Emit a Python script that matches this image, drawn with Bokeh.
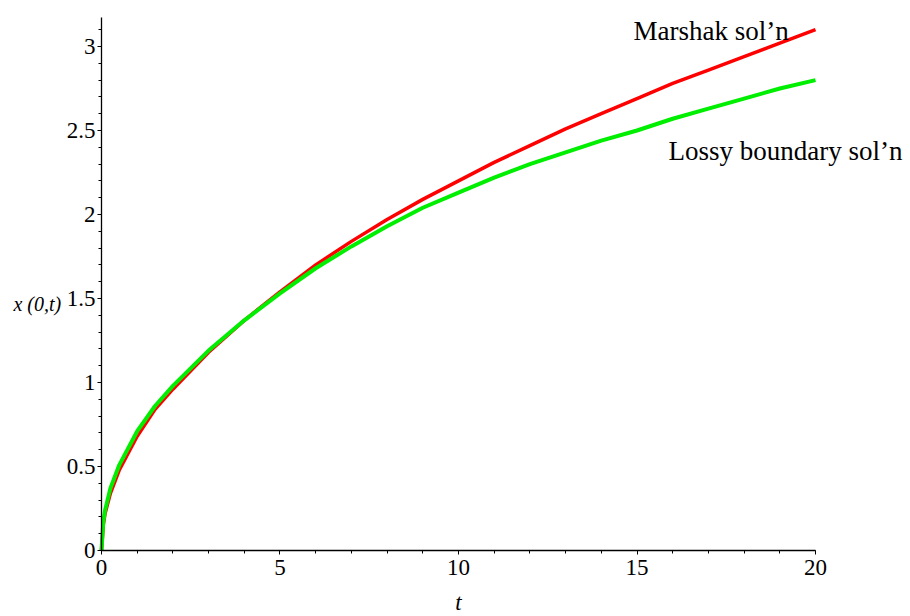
from bokeh.plotting import figure
from bokeh.models import Range1d, SingleIntervalTicker, Label, ColumnDataSource
from bokeh.embed import file_html
from bokeh.resources import INLINE

# time values
t_vals = [0, 0.05, 0.1, 0.25, 0.5, 1, 1.5, 2, 3, 4, 5, 6, 7, 8, 9, 10,
          11, 12, 13, 14, 15, 16, 17, 18, 19, 20]
# Marshak solution x(0,t)
marshak = [0, 0.15, 0.22, 0.34, 0.48, 0.68, 0.84, 0.96, 1.18, 1.37, 1.54,
           1.70, 1.84, 1.97, 2.09, 2.20, 2.31, 2.41, 2.51, 2.60, 2.69,
           2.78, 2.86, 2.94, 3.02, 3.10]
# Lossy boundary solution x(0,t)
lossy = [0, 0.17, 0.24, 0.37, 0.51, 0.71, 0.86, 0.98, 1.19, 1.37, 1.53,
         1.68, 1.81, 1.93, 2.04, 2.13, 2.22, 2.30, 2.37, 2.44, 2.50,
         2.57, 2.63, 2.69, 2.75, 2.80]

labels = ["Marshak sol\u2019n", "Lossy boundary sol\u2019n"]
label_t = [14.9, 15.88]
label_v = [3.095, 2.38]

x_axis_extent = (0, 20)
y_axis_extent = (0, 3.17)

FONT = "Liberation Serif"

p = figure(width=910, height=616, output_backend="svg", toolbar_location=None,
           x_range=Range1d(-2.829, 22.661), y_range=Range1d(-0.3929, 3.2738),
           min_border=0, min_border_left=0, min_border_right=0,
           min_border_top=0, min_border_bottom=0)
p.outline_line_color = None
p.xgrid.visible = False
p.ygrid.visible = False
p.background_fill_color = "white"
p.border_fill_color = "white"

src = ColumnDataSource(dict(t=t_vals, m=marshak, l=lossy))
p.line("t", "m", source=src, line_color="#ff0000", line_width=3.5)
p.line("t", "l", source=src, line_color="#00ee00", line_width=4)

for ax in (p.xaxis[0], p.yaxis[0]):
    ax.fixed_location = 0
    ax.axis_line_color = "black"
    ax.axis_line_width = 1.3
    ax.major_tick_in = 0
    ax.major_tick_out = 4
    ax.minor_tick_in = 0
    ax.minor_tick_out = 3
    ax.major_tick_line_color = "black"
    ax.minor_tick_line_color = "black"
    ax.major_label_text_font = FONT
    ax.major_label_text_font_size = "23px"
    ax.major_label_text_color = "black"

p.xaxis[0].bounds = x_axis_extent
p.yaxis[0].bounds = y_axis_extent
p.xaxis[0].ticker = SingleIntervalTicker(interval=5, num_minor_ticks=5)
p.yaxis[0].ticker = SingleIntervalTicker(interval=0.5, num_minor_ticks=5)
p.xaxis[0].major_label_standoff = 6
p.yaxis[0].major_label_standoff = 2

for txt, tx, ty in zip(labels, label_t, label_v):
    p.add_layout(Label(x=tx, y=ty, text=txt, text_font=FONT,
                       text_font_size="27px", text_color="black",
                       text_baseline="alphabetic", text_align="left"))

p.add_layout(Label(x=-2.465, y=1.47, text="x (0,t)", text_font=FONT,
                   text_font_style="italic", text_font_size="20px",
                   text_color="black", text_baseline="alphabetic",
                   text_align="left"))
p.add_layout(Label(x=10.0, y=-0.3095, text="t", text_font=FONT,
                   text_font_style="italic", text_font_size="23px",
                   text_color="black", text_baseline="middle",
                   text_align="center"))

open("out.html", "w").write(file_html(p, INLINE))
